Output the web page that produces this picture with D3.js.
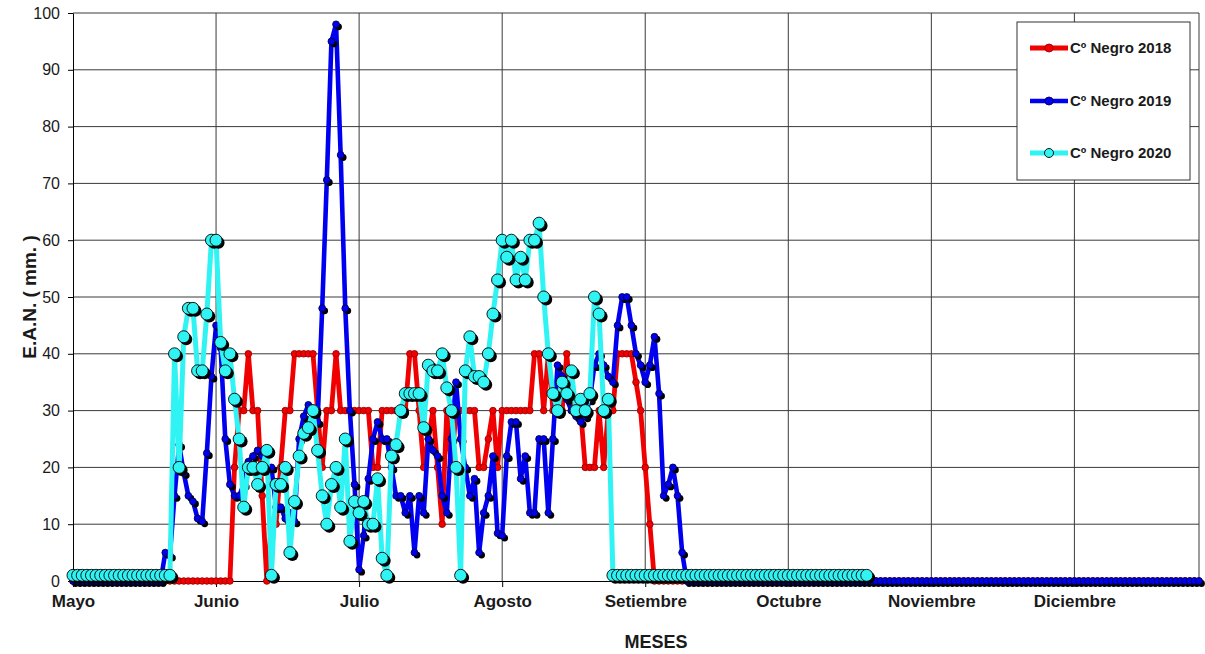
<!DOCTYPE html>
<html><head><meta charset="utf-8">
<script src="https://cdn.jsdelivr.net/npm/d3@7"></script>
<style>body{margin:0;background:#fff} svg{display:block;font-family:"Liberation Sans",Arial,sans-serif}</style>
</head><body>
<svg id="c" width="1205" height="654"></svg>
<script>
const monthLabels = ["Mayo","Junio","Julio","Agosto","Setiembre","Octubre","Noviembre","Diciembre"];
const monthTickIndex = [0,31,62,93,124,155,186,217];
const yTicks = [0,10,20,30,40,50,60,70,80,90,100];
const seriesNames = ["C\u00ba Negro 2018","C\u00ba Negro 2019","C\u00ba Negro 2020"];

const red2018 = [
0,0,0,0,0,0,0,0,0,0,
0,0,0,0,0,0,0,0,0,0,
0,0,0,0,0,0,0,0,0,0,
0,0,0,0,0,20,30,30,40,30,
30,15,0,10,10,20,30,30,40,40,
40,40,40,30,20,30,30,40,30,30,
30,30,30,30,30,20,20,30,30,30,
30,30,30,40,40,30,20,25,30,20,
10,30,20,30,30,30,30,30,20,20,
25,30,20,30,30,30,30,30,30,30,
40,40,30,40,30,30,30,40,30,30,
30,20,20,20,30,20,30,30,40,40,
40,40,35,30,20,10,0,0,0,0,
0,0,0,0,0,0,0,0,0,0,
0,0,0,0,0,0,0,0,0,0,
0,0,0,0,0,0,0,0,0,0,
0,0,0,0,0,0,0,0,0,0,
0,0,0,0,0,0,0,0,0,0,
0,0,0,0,0,0,0,0,0,0,
0,0,0,0,0,0,0,0,0,0,
0,0,0,0,0,0,0,0,0,0,
0,0,0,0,0,0,0,0,0,0,
0,0,0,0,0,0,0,0,0,0,
0,0,0,0,0,0,0,0,0,0,
0,0,0,0,0];

const blue2019 = [
0,0,0,0,0,0,0,0,0,0,
0,0,0,0,0,0,0,0,0,0,
5,4.5,15,24,19,15,14,11,10.5,22.5,
36,45,41,25,17,15,15,17,21,22,
23,22,20,20,13,13,11,12,10.5,25,
29,31,30,28,48,70.6,95,98,75,48,
30,17,2,8,18,25,28,25,25,20,
15,15,12,15,5,15,12,25,23,22,
15,12,25,35,25,20,15,18,5,12,
15,22,8.4,8,22,28,28,18,22,12,
12,25,25,12,25,38,36,32,30,29,
28,29,32,38,40,38,36,35,45,50,
50,45,40,38,35,38,43,33,15,17,
20,15,5,0,0,0,0,0,0,0,
0,0,0,0,0,0,0,0,0,0,
0,0,0,0,0,0,0,0,0,0,
0,0,0,0,0,0,0,0,0,0,
0,0,0,0,0,0,0,0,0,0,
0,0,0,0,0,0,0,0,0,0,
0,0,0,0,0,0,0,0,0,0,
0,0,0,0,0,0,0,0,0,0,
0,0,0,0,0,0,0,0,0,0,
0,0,0,0,0,0,0,0,0,0,
0,0,0,0,0,0,0,0,0,0,
0,0,0,0,0];

const cyan2020 = [
1,1,1,1,1,1,1,1,1,1,
1,1,1,1,1,1,1,1,1,1,
1,1,40,20,43,48,48,37,37,47,
60,60,42,37,40,32,25,13,20,20,
17,20,23,1,17,17,20,5,14,22,
26,27,30,23,15,10,17,20,13,25,
7,14,12,14,10,10,18,4,1,22,
24,30,33,33,33,33,27,38,37,37,
40,34,30,20,1,37,43,36,36,35,
40,47,53,60,57,60,53,57,53,60,
60,63,50,40,33,30,35,33,37,30,
32,30,33,50,47,30,32,1,1,1,
1,1,1,1,1,1,1,1,1,1,
1,1,1,1,1,1,1,1,1,1,
1,1,1,1,1,1,1,1,1,1,
1,1,1,1,1,1,1,1,1,1,
1,1,1,1,1,1,1,1,1,1,
1,1,1];

const svg = d3.select("#c");
const L = 73, R = 1199, T = 13, B = 581;
const x = d3.scaleLinear().domain([0, red2018.length - 1]).range([L, R]);
const y = d3.scaleLinear().domain([0, 100]).range([B, T]);
const gridColor = "#3a3a3a";

// grid
const grid = svg.append("g");
grid.selectAll("line.h").data(yTicks.filter(d => d > 0)).join("line")
  .attr("x1", L).attr("x2", R).attr("y1", d => y(d)).attr("y2", d => y(d))
  .attr("stroke", gridColor).attr("stroke-width", 1);
grid.selectAll("line.v").data(monthTickIndex.slice(1)).join("line")
  .attr("x1", d => x(d)).attr("x2", d => x(d)).attr("y1", T).attr("y2", B)
  .attr("stroke", gridColor).attr("stroke-width", 1);
grid.append("line").attr("x1", R).attr("x2", R).attr("y1", T).attr("y2", B)
  .attr("stroke", gridColor).attr("stroke-width", 1);

// axes
const yAxis = svg.append("g").attr("transform", `translate(${L},0)`)
  .call(d3.axisLeft(y).tickValues(yTicks).tickSize(5).tickPadding(8).tickSizeOuter(0));
yAxis.select(".domain").attr("stroke", "#000");
yAxis.selectAll(".tick line").attr("stroke", "#000");
yAxis.selectAll(".tick text").attr("font-size", 16).attr("fill", "#1a1a1a")
  .attr("font-family", '"Liberation Sans",Arial,sans-serif');

const xAxis = svg.append("g").attr("transform", `translate(0,${B})`)
  .call(d3.axisBottom(x).tickValues(monthTickIndex).tickFormat((d, i) => monthLabels[i])
    .tickSize(6).tickPadding(8).tickSizeOuter(0));
xAxis.select(".domain").attr("stroke", "#000");
xAxis.selectAll(".tick line").attr("stroke", "#000");
xAxis.selectAll(".tick text").attr("font-size", 17).attr("font-weight", "bold").attr("fill", "#1a1a1a")
  .attr("font-family", '"Liberation Sans",Arial,sans-serif');

// series
const series = [
  {name: seriesNames[0], data: red2018, color: "#f00000", stroke: "#a00000", r: 3.3, lw: 4.8, shadow: false},
  {name: seriesNames[1], data: blue2019, color: "#0000f0", stroke: "#000050", r: 3.4, lw: 4.6, shadow: true},
  {name: seriesNames[2], data: cyan2020, color: "#30f4f4", stroke: "#000", r: 6, lw: 5, shadow: true}
];
const line = d3.line().defined(d => d != null).x((d, i) => x(i)).y(d => y(d));

series.forEach(s => {
  const g = svg.append("g");
  g.append("path").attr("d", line(s.data)).attr("fill", "none")
    .attr("stroke", s.color).attr("stroke-width", s.lw).attr("stroke-linejoin", "round");
  const pts = s.data.map((v, i) => ({i, v})).filter(d => d.v != null);
  if (s.shadow) {
    g.selectAll("circle.sh").data(pts).join("circle").attr("class", "sh")
      .attr("cx", d => x(d.i) + 2.5).attr("cy", d => y(d.v) + 2.5).attr("r", s.r)
      .attr("fill", "#000");
  }
  g.selectAll("circle.mk").data(pts).join("circle").attr("class", "mk")
    .attr("cx", d => x(d.i)).attr("cy", d => y(d.v)).attr("r", s.r)
    .attr("fill", s.color).attr("stroke", s.stroke).attr("stroke-width", 0.9);
});

// legend
const lg = svg.append("g");
lg.append("rect").attr("x", 1017).attr("y", 22).attr("width", 173).attr("height", 158)
  .attr("fill", "#fff").attr("stroke", "#333").attr("stroke-width", 1);
const legY = [48, 101, 153];
series.forEach((s, k) => {
  const yy = legY[k];
  lg.append("line").attr("x1", 1030).attr("x2", 1068).attr("y1", yy).attr("y2", yy)
    .attr("stroke", s.color).attr("stroke-width", s.lw);
  lg.append("circle").attr("cx", 1049).attr("cy", yy).attr("r", k === 2 ? 4.5 : 4)
    .attr("fill", s.color).attr("stroke", s.stroke).attr("stroke-width", 0.9);
  lg.append("text").attr("x", 1070).attr("y", yy).attr("dy", "0.36em")
    .attr("font-size", 15).attr("font-weight", "bold").attr("fill", "#1a1a1a").text(s.name);
});

// titles
svg.append("text").attr("x", 656).attr("y", 648).attr("text-anchor", "middle")
  .attr("font-size", 18).attr("font-weight", "bold").attr("fill", "#1a1a1a").text("MESES");
svg.append("text").attr("transform", "translate(36,297) rotate(-90)").attr("text-anchor", "middle")
  .attr("font-size", 19).attr("font-weight", "bold").attr("fill", "#1a1a1a").text("E.A.N. ( mm. )");
</script>
</body></html>
